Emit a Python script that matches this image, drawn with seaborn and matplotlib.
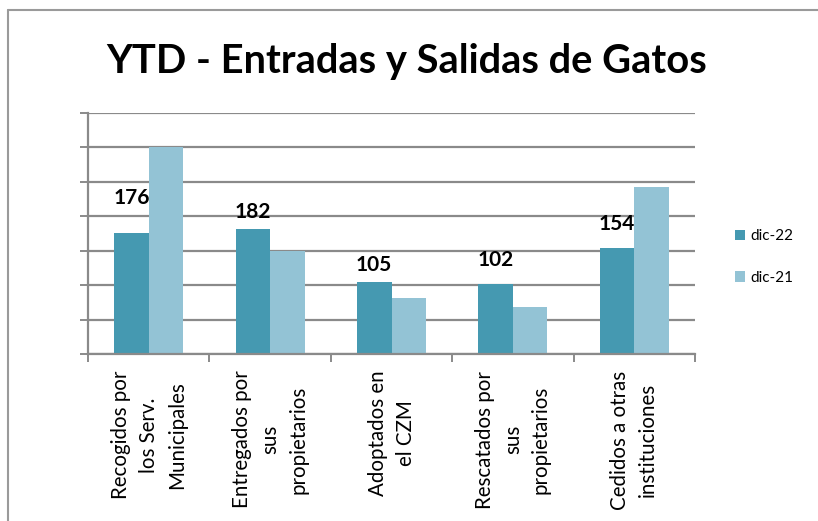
import matplotlib
matplotlib.use("Agg")
import matplotlib.pyplot as plt
from matplotlib.lines import Line2D
import seaborn as sns
import pandas as pd
import numpy as np

# ---- data ----
categories = [
    "Recogidos por\nlos Serv.\nMunicipales",
    "Entregados por\nsus\npropietarios",
    "Adoptados en\nel CZM",
    "Rescatados por\nsus\npropietarios",
    "Cedidos a otras\ninstituciones",
]
series_names = ["dic-22", "dic-21"]
dic22 = [176, 182, 105, 102, 154]
dic21 = [300, 150, 81, 68, 242]
label_offsets_pt = [25, 12, 12, 17, 17]  # label placement above bars (style)

colors = ["#4599B1", "#93C3D5"]

df = pd.DataFrame({
    "cat": categories * 2,
    "serie": [series_names[0]] * 5 + [series_names[1]] * 5,
    "val": dic22 + dic21,
})

sns.set_theme(style="white")
plt.rcParams["font.family"] = ["Lato", "DejaVu Sans"]
plt.rcParams["text.color"] = "black"

W, H = 818, 521
fig = plt.figure(figsize=(W / 100, H / 100), dpi=100)
ax = fig.add_axes([88 / W, (H - 354) / H, (695 - 88) / W, (354 - 113) / H])

sns.barplot(data=df, x="cat", y="val", hue="serie", hue_order=series_names,
            order=categories, palette=colors, width=0.57, gap=0,
            saturation=1, ax=ax, legend=True, edgecolor="none")

ax.set_ylim(0, 350)
ax.set_xlim(-0.5, 4.5)
ax.set_yticks(np.arange(0, 351, 50))
ax.set_yticklabels([])
ax.yaxis.grid(True, color="#8a8a8a", linewidth=1.6)
ax.set_axisbelow(True)
ax.tick_params(axis="y", which="major", left=True, length=6, width=1.4, color="#8a8a8a")

# x ticks at category boundaries
ax.set_xticks(range(len(categories)))
ax.set_xticklabels(categories, rotation=90, fontsize=14.8, ha="center", va="top",
                   multialignment="center", color="black", linespacing=1.5)
ax.tick_params(axis="x", which="major", length=0, pad=12)
ax.set_xticks(np.arange(-0.5, 5, 1), minor=True)
ax.tick_params(axis="x", which="minor", bottom=True, length=6, width=1.4, color="#8a8a8a")
ax.set_xlabel("")
ax.set_ylabel("")

for side in ["top", "right"]:
    ax.spines[side].set_visible(False)
for side in ["left", "bottom"]:
    ax.spines[side].set_color("#8a8a8a")
    ax.spines[side].set_linewidth(1.6)

# data labels on dic-22 bars
dark_bars = ax.containers[0]
for bar, v, off in zip(dark_bars, dic22, label_offsets_pt):
    ax.annotate(str(v), (bar.get_x() + bar.get_width() / 2, bar.get_height()),
                xytext=(0, off), textcoords="offset points", ha="center", va="center",
                fontsize=15, fontweight="bold", color="black")

# legend
handles, labels = ax.get_legend_handles_labels()
leg = ax.legend(handles, labels, loc="center left", bbox_to_anchor=(721 / W, 1 - 257 / H),
                bbox_transform=fig.transFigure, frameon=False, fontsize=11,
                handlelength=0.7, handleheight=0.7, handletextpad=0.3, labelspacing=1.8)
for t in leg.get_texts():
    t.set_color("black")

fig.suptitle("YTD - Entradas y Salidas de Gatos", x=407 / W, y=1 - 62 / H,
             va="center", ha="center", fontsize=28.7, fontweight="bold", color="black")

# chart border (top and left)
fig.add_artist(Line2D([8 / W, 1], [1 - 10 / H, 1 - 10 / H], transform=fig.transFigure,
                      color="#9a9a9a", linewidth=1.5))
fig.add_artist(Line2D([8 / W, 8 / W], [0, 1 - 10 / H], transform=fig.transFigure,
                      color="#9a9a9a", linewidth=1.5))

fig.savefig("out.png", dpi=100)
